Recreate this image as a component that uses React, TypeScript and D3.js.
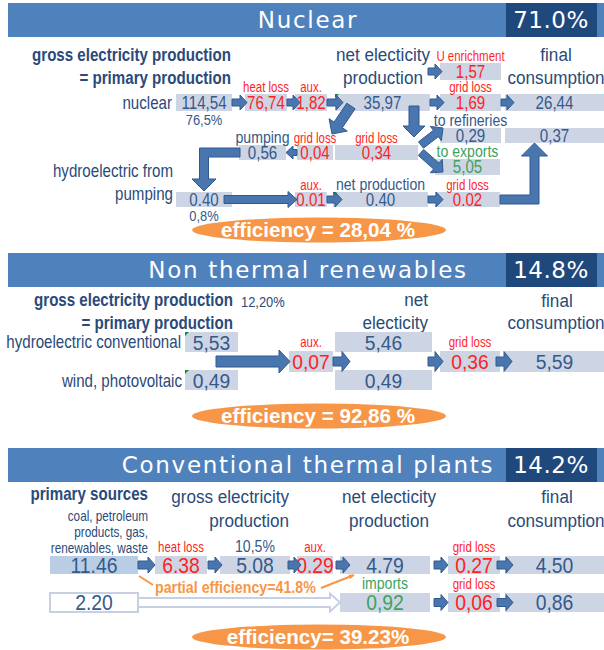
import React from 'react';
import * as d3 from 'd3';

const FONT = "'Liberation Sans', Arial, sans-serif";
const TITLE_FONT = "'DejaVu Sans', 'Open Sans', sans-serif";

const COLORS = {
  band: '#4F81BD',
  bandDark: '#1F497D',
  box: '#CDD5E5',
  boxSrc: '#B9CDE5',
  text: '#2A4A7A',
  value: '#34598B',
  loss: '#FF1F1F',
  green: '#3DA35D',
  arrow: '#4A76B0',
  arrowEdge: '#2F5A8E',
  orange: '#F79646',
  hollow: '#C6D0E2',
};

type Tone = 'value' | 'loss' | 'green';
interface Flow { id: string; value: string; tone: Tone; note?: string; noteTone?: Tone; sub?: string }

// ---- data ----
const sectionTitles = ['Nuclear', 'Non thermal renewables', 'Conventional thermal plants'];
const sectionShares = ['71.0%', '14.8%', '14.2%'];
const efficiencyLabels = ['efficiency = 28,04 %', 'efficiency = 92,86 %', 'efficiency= 39.23%'];

const nuclearFlows: Flow[] = [
  { id: 'nuc', value: '114,54', tone: 'value', sub: '76,5%' },
  { id: 'heat', value: '76,74', tone: 'loss', note: 'heat loss' },
  { id: 'aux', value: '1,82', tone: 'loss', note: 'aux.' },
  { id: 'net', value: '35,97', tone: 'value' },
  { id: 'enr', value: '1,57', tone: 'loss', note: 'U enrichment' },
  { id: 'grid', value: '1,69', tone: 'loss', note: 'grid loss' },
  { id: 'fin', value: '26,44', tone: 'value' },
  { id: 'pump', value: '0,56', tone: 'value', note: 'pumping', noteTone: 'value' },
  { id: 'pumpLoss', value: '0,04', tone: 'loss', note: 'grid loss' },
  { id: 'netLoss', value: '0,34', tone: 'loss', note: 'grid loss' },
  { id: 'ref', value: '0,29', tone: 'value', note: 'to refineries', noteTone: 'value' },
  { id: 'fin2', value: '0,37', tone: 'value' },
  { id: 'exp', value: '5,05', tone: 'green', note: 'to exports', noteTone: 'green' },
  { id: 'hyd', value: '0.40', tone: 'value', sub: '0,8%' },
  { id: 'aux2', value: '0.01', tone: 'loss', note: 'aux.' },
  { id: 'net2', value: '0.40', tone: 'value', note: 'net production', noteTone: 'value' },
  { id: 'grid2', value: '0.02', tone: 'loss', note: 'grid loss' },
];

const renewableFlows: Flow[] = [
  { id: 'hydro', value: '5,53', tone: 'value' },
  { id: 'wind', value: '0,49', tone: 'value' },
  { id: 'aux', value: '0,07', tone: 'loss', note: 'aux.' },
  { id: 'netH', value: '5,46', tone: 'value' },
  { id: 'netW', value: '0,49', tone: 'value' },
  { id: 'grid', value: '0,36', tone: 'loss', note: 'grid loss' },
  { id: 'fin', value: '5,59', tone: 'value' },
];

const thermalFlows: Flow[] = [
  { id: 'prim', value: '11.46', tone: 'value' },
  { id: 'heat', value: '6.38', tone: 'loss', note: 'heat loss' },
  { id: 'gross', value: '5.08', tone: 'value', note: '10,5%', noteTone: 'value' },
  { id: 'aux', value: '0.29', tone: 'loss', note: 'aux.' },
  { id: 'net', value: '4.79', tone: 'value' },
  { id: 'grid', value: '0.27', tone: 'loss', note: 'grid loss' },
  { id: 'fin', value: '4.50', tone: 'value' },
  { id: 'other', value: '2.20', tone: 'value' },
  { id: 'imp', value: '0,92', tone: 'green', note: 'imports', noteTone: 'green' },
  { id: 'grid2', value: '0,06', tone: 'loss', note: 'grid loss' },
  { id: 'fin2', value: '0,86', tone: 'value' },
];

// ---- layout ----
type Anchor = [string, string, number?, number?];
type LabelKind = 'bold' | 'head' | 'row' | 'small' | 'pct' | 'orange';
interface ArrowSpec { from: Anchor; to: Anchor; sw?: number; hw?: number; hl?: number; elbow?: boolean; hollow?: boolean; thin?: boolean }
interface Label { t: string; x: number; y: number; a?: 'start' | 'middle' | 'end'; kind: LabelKind }
interface Layout {
  top: number;
  cols: Record<string, [number, number]>;
  rows: Record<string, [number, number]>;
  place: Record<string, [string, string]>;
  valueSize: number;
  valueSx: number;
  noteGap: number;
  arrowSize: [number, number, number];
  labels: Label[];
  arrows: ArrowSpec[];
  ticks: string[];
  special?: Record<string, 'src' | 'outline'>;
  ellipse: [number, number];
}

const labelStyle: Record<LabelKind, { size: number; sx: number; bold?: boolean; color?: string }> = {
  bold: { size: 18, sx: 0.84, bold: true },
  head: { size: 19, sx: 0.9 },
  row: { size: 18, sx: 0.84 },
  small: { size: 14, sx: 0.84 },
  pct: { size: 15, sx: 0.86 },
  orange: { size: 16, sx: 0.89, bold: true, color: COLORS.orange },
};

const nuclearLayout: Layout = {
  top: 3,
  cols: {
    src: [176, 232], heat: [245, 287], aux: [295, 327], pump: [239, 286], pumpLoss: [297, 333],
    net: [335, 430], net2: [333, 428], netLoss: [335, 418], loss: [440, 501], exp: [435, 500], final: [505, 604],
  },
  rows: { enr: [63, 80], r1: [94, 111], r2: [128, 143], pump: [145, 160], exp: [159, 175], r3: [192, 207] },
  place: {
    nuc: ['src', 'r1'], heat: ['heat', 'r1'], aux: ['aux', 'r1'], net: ['net', 'r1'], enr: ['loss', 'enr'],
    grid: ['loss', 'r1'], fin: ['final', 'r1'], pump: ['pump', 'pump'], pumpLoss: ['pumpLoss', 'pump'],
    netLoss: ['netLoss', 'pump'], ref: ['loss', 'r2'], fin2: ['final', 'r2'], exp: ['exp', 'exp'],
    hyd: ['src', 'r3'], aux2: ['aux', 'r3'], net2: ['net2', 'r3'], grid2: ['exp', 'r3'],
  },
  valueSize: 18,
  valueSx: 0.84,
  noteGap: 2,
  arrowSize: [7, 15, 7],
  labels: [
    { t: 'gross electricity production', x: 231, y: 61, a: 'end', kind: 'bold' },
    { t: '= primary production', x: 231, y: 84, a: 'end', kind: 'bold' },
    { t: 'net electicity', x: 383, y: 61, a: 'middle', kind: 'head' },
    { t: 'production', x: 383, y: 84, a: 'middle', kind: 'head' },
    { t: 'final', x: 556, y: 61, a: 'middle', kind: 'head' },
    { t: 'consumption', x: 556, y: 84, a: 'middle', kind: 'head' },
    { t: 'nuclear', x: 172, y: 109, a: 'end', kind: 'row' },
    { t: 'hydroelectric from', x: 173, y: 177, a: 'end', kind: 'row' },
    { t: 'pumping', x: 173, y: 200, a: 'end', kind: 'row' },
  ],
  arrows: [
    { from: ['nuc', 'r'], to: ['nuc', 'r', 15] },
    { from: ['heat', 'r'], to: ['heat', 'r', 13] },
    { from: ['aux', 'r'], to: ['aux', 'r', 16] },
    { from: ['net', 'r'], to: ['net', 'r', 14] },
    { from: ['grid', 'r'], to: ['grid', 'r', 13] },
    { from: ['enr', 'l', -12], to: ['enr', 'l', 2] },
    { from: ['pumpLoss', 'l'], to: ['pump', 'r'], sw: 6, hw: 13, hl: 7 },
    { from: ['net', 'bl', 16, -5], to: ['pumpLoss', 'tr', -1, -11], sw: 10, hw: 22, hl: 11 },
    { from: ['net', 'br', -16, -5], to: ['netLoss', 'tr', -4, -8], sw: 10, hw: 22, hl: 11 },
    { from: ['netLoss', 'tr', 3, 0], to: ['ref', 'tl', 3, 0], sw: 8, hw: 18, hl: 9 },
    { from: ['netLoss', 'r', 3, 0], to: ['exp', 'l', 8, 5], sw: 8, hw: 18, hl: 9 },
    { from: ['pump', 'l', 1], to: ['hyd', 't', 0, -1], elbow: true, sw: 9, hw: 24, hl: 12 },
    { from: ['hyd', 'r', -8], to: ['aux2', 'l', 2], sw: 8, hw: 16, hl: 9 },
    { from: ['aux2', 'r'], to: ['aux2', 'r', 15] },
    { from: ['net2', 'r'], to: ['net2', 'r', 15] },
    { from: ['grid2', 'r'], to: ['fin2', 'b', -20, 0], elbow: true, sw: 9, hw: 26, hl: 13 },
  ],
  ticks: ['net', 'net2'],
  ellipse: [319, 230],
};

const renewableLayout: Layout = {
  top: 253,
  cols: { src: [185, 238], aux: [289, 333], net: [335, 432], loss: [440, 500], final: [505, 604] },
  rows: { top: [332, 352], mid: [351, 372], bot: [370, 390] },
  place: {
    hydro: ['src', 'top'], wind: ['src', 'bot'], aux: ['aux', 'mid'], netH: ['net', 'top'],
    netW: ['net', 'bot'], grid: ['loss', 'mid'], fin: ['final', 'mid'],
  },
  valueSize: 21,
  valueSx: 0.92,
  noteGap: 4,
  arrowSize: [9, 20, 8],
  labels: [
    { t: 'gross electricity production', x: 233, y: 306, a: 'end', kind: 'bold' },
    { t: '12,20%', x: 241, y: 307, a: 'start', kind: 'pct' },
    { t: '= primary production', x: 233, y: 329, a: 'end', kind: 'bold' },
    { t: 'net', x: 428, y: 306, a: 'end', kind: 'head' },
    { t: 'electicity', x: 428, y: 329, a: 'end', kind: 'head' },
    { t: 'final', x: 557, y: 307, a: 'middle', kind: 'head' },
    { t: 'consumption', x: 556, y: 329, a: 'middle', kind: 'head' },
    { t: 'hydroelectric conventional', x: 181, y: 348, a: 'end', kind: 'row' },
    { t: 'wind, photovoltaic', x: 182, y: 387, a: 'end', kind: 'row' },
  ],
  arrows: [
    { from: ['aux', 'l', -73], to: ['aux', 'l', 1], sw: 11, hw: 23, hl: 11 },
    { from: ['aux', 'r'], to: ['aux', 'r', 17] },
    { from: ['grid', 'l', -12], to: ['grid', 'l', 3] },
    { from: ['grid', 'r', -4], to: ['grid', 'r', 12] },
  ],
  ticks: ['hydro', 'wind'],
  ellipse: [319, 416],
};

const thermalLayout: Layout = {
  top: 448,
  cols: {
    src: [50, 138], heat: [155, 207], gross: [220, 290], aux: [297, 333], net: [340, 430], loss: [448, 500], final: [505, 604],
  },
  rows: { r1: [556, 574], r2: [593, 612] },
  place: {
    prim: ['src', 'r1'], heat: ['heat', 'r1'], gross: ['gross', 'r1'], aux: ['aux', 'r1'], net: ['net', 'r1'],
    grid: ['loss', 'r1'], fin: ['final', 'r1'], other: ['src', 'r2'], imp: ['net', 'r2'], grid2: ['loss', 'r2'], fin2: ['final', 'r2'],
  },
  valueSize: 22,
  valueSx: 0.88,
  noteGap: 4,
  arrowSize: [8, 16, 7],
  labels: [
    { t: 'primary sources', x: 148, y: 500, a: 'end', kind: 'bold' },
    { t: 'coal, petroleum', x: 148, y: 521, a: 'end', kind: 'small' },
    { t: 'products, gas,', x: 148, y: 537, a: 'end', kind: 'small' },
    { t: 'renewables, waste', x: 148, y: 553, a: 'end', kind: 'small' },
    { t: 'gross electricity', x: 289, y: 503, a: 'end', kind: 'head' },
    { t: 'production', x: 289, y: 527, a: 'end', kind: 'head' },
    { t: 'net electicity', x: 389, y: 503, a: 'middle', kind: 'head' },
    { t: 'production', x: 389, y: 527, a: 'middle', kind: 'head' },
    { t: 'final', x: 557, y: 503, a: 'middle', kind: 'head' },
    { t: 'consumption', x: 556, y: 527, a: 'middle', kind: 'head' },
    { t: 'partial efficiency=41.8%', x: 155, y: 593, a: 'start', kind: 'orange' },
  ],
  arrows: [
    { from: ['prim', 'r'], to: ['prim', 'r', 17] },
    { from: ['heat', 'r', 1], to: ['heat', 'r', 15] },
    { from: ['gross', 'r', -2], to: ['gross', 'r', 11] },
    { from: ['aux', 'r', 3], to: ['aux', 'r', 17] },
    { from: ['net', 'r', 4], to: ['net', 'r', 18] },
    { from: ['grid', 'r', -3], to: ['grid', 'r', 13] },
    { from: ['imp', 'r', 4], to: ['imp', 'r', 18] },
    { from: ['grid2', 'r', -3], to: ['grid2', 'r', 13] },
    { from: ['other', 'r'], to: ['imp', 'l'], sw: 9, hw: 18, hl: 10, hollow: true },
    { from: ['prim', 'br', 1, 2], to: ['heat', 'bl', -2, 11], thin: true },
    { from: ['net', 'bl', -19, 14], to: ['net', 'bl', 14, 1], thin: true, hw: 5, hl: 5 },
  ],
  ticks: [],
  special: { prim: 'src', other: 'outline' },
  ellipse: [319, 637],
};

const toneColor = (t: Tone) => (t === 'loss' ? COLORS.loss : t === 'green' ? COLORS.green : COLORS.value);

type P = [number, number];

function arrowPolygon(pts: P[], sw: number, hw: number, hl: number): P[] {
  const n = pts.length;
  const tip = pts[n - 1];
  const prev = pts[n - 2];
  const len = Math.hypot(tip[0] - prev[0], tip[1] - prev[1]);
  const ux = (tip[0] - prev[0]) / len;
  const uy = (tip[1] - prev[1]) / len;
  const base: P = [tip[0] - ux * hl, tip[1] - uy * hl];
  const shaft: P[] = [...pts.slice(0, n - 1), base];
  const segN = (a: P, b: P): P => {
    const l = Math.hypot(b[0] - a[0], b[1] - a[1]);
    return [-(b[1] - a[1]) / l, (b[0] - a[0]) / l];
  };
  const left: P[] = [];
  const right: P[] = [];
  shaft.forEach((p, i) => {
    let nv: P;
    if (i === 0) nv = segN(shaft[0], shaft[1]);
    else if (i === shaft.length - 1) nv = segN(shaft[i - 1], shaft[i]);
    else {
      const n1 = segN(shaft[i - 1], shaft[i]);
      const n2 = segN(shaft[i], shaft[i + 1]);
      let mx = n1[0] + n2[0];
      let my = n1[1] + n2[1];
      const ml = Math.hypot(mx, my);
      mx /= ml; my /= ml;
      const d = mx * n1[0] + my * n1[1];
      nv = [mx / d, my / d];
    }
    left.push([p[0] + (nv[0] * sw) / 2, p[1] + (nv[1] * sw) / 2]);
    right.push([p[0] - (nv[0] * sw) / 2, p[1] - (nv[1] * sw) / 2]);
  });
  const nx = -uy;
  const ny = ux;
  return [
    ...left,
    [base[0] + (nx * hw) / 2, base[1] + (ny * hw) / 2],
    tip,
    [base[0] - (nx * hw) / 2, base[1] - (ny * hw) / 2],
    ...right.reverse(),
  ];
}

const polyLine = d3.line<P>().x((d) => d[0]).y((d) => d[1]);

// narrow text: regular sans squeezed horizontally around its anchor
const NText: React.FC<{
  x: number; y: number; sx: number; anchor?: 'start' | 'middle' | 'end';
  size: number; bold?: boolean; fill: string; children: React.ReactNode;
}> = ({ x, y, sx, anchor = 'start', size, bold, fill, children }) => (
  <text transform={`translate(${x},${y}) scale(${sx},1)`} textAnchor={anchor} fontFamily={FONT}
    fontSize={size} fontWeight={bold ? 'bold' : 'normal'} fill={fill}>{children}</text>
);

interface SectionProps { index: number; flows: Flow[]; layout: Layout }

const Section: React.FC<SectionProps> = ({ index, flows, layout }) => {
  const colScale = d3.scaleOrdinal<string, [number, number]>()
    .domain(Object.keys(layout.cols)).range(Object.values(layout.cols));
  const rowScale = d3.scaleOrdinal<string, [number, number]>()
    .domain(Object.keys(layout.rows)).range(Object.values(layout.rows));

  const boxes = new Map(flows.map((f) => {
    const [c, r] = layout.place[f.id];
    const [x0, x1] = colScale(c);
    const [y0, y1] = rowScale(r);
    return [f.id, { x0, x1, y0, y1, cx: (x0 + x1) / 2, cy: (y0 + y1) / 2 }];
  }));

  const anchor = ([id, side, dx = 0, dy = 0]: Anchor): P => {
    const b = boxes.get(id)!;
    const pos: Record<string, P> = {
      l: [b.x0, b.cy], r: [b.x1, b.cy], t: [b.cx, b.y0], b: [b.cx, b.y1],
      tl: [b.x0, b.y0], tr: [b.x1, b.y0], bl: [b.x0, b.y1], br: [b.x1, b.y1],
    };
    const p = pos[side];
    return [p[0] + dx, p[1] + dy];
  };

  const top = layout.top;
  const bandH = 34;
  const [asw, ahw, ahl] = layout.arrowSize;

  return (
    <g>
      <rect x={8} y={top} width={596} height={bandH} fill={COLORS.band} />
      <rect x={506} y={top} width={91} height={bandH} fill={COLORS.bandDark} />
      <text x={308} y={top + 25} textAnchor="middle" fill="#fff" fontFamily={TITLE_FONT}
        fontSize={23} letterSpacing={1.7}>{sectionTitles[index]}</text>
      <text x={551} y={top + 25} textAnchor="middle" fill="#fff" fontFamily={TITLE_FONT}
        fontSize={23} letterSpacing={0.5}>{sectionShares[index]}</text>

      {layout.labels.map((l, i) => {
        const st = labelStyle[l.kind];
        return (
          <NText key={`l${i}`} x={l.x} y={l.y} anchor={l.a} size={st.size} sx={st.sx} bold={st.bold}
            fill={st.color ?? COLORS.text}>{l.t}</NText>
        );
      })}

      {flows.map((f) => {
        const b = boxes.get(f.id)!;
        const kind = layout.special?.[f.id];
        return (
          <rect key={`b${f.id}`} x={b.x0} y={b.y0} width={b.x1 - b.x0} height={b.y1 - b.y0}
            fill={kind === 'src' ? COLORS.boxSrc : kind === 'outline' ? '#fff' : COLORS.box}
            stroke={kind === 'outline' ? COLORS.hollow : 'none'} strokeWidth={2} />
        );
      })}

      {layout.ticks.map((id) => {
        const b = boxes.get(id)!;
        return <path key={`t${id}`} d={`M${b.x0},${b.y0}h4l-4,4Z`} fill="#1A8A3A" />;
      })}

      {flows.map((f) => {
        const b = boxes.get(f.id)!;
        const noteTone = f.noteTone ?? 'loss';
        return (
          <g key={`v${f.id}`}>
            <NText x={b.cx} y={b.cy + layout.valueSize * 0.36} anchor="middle" sx={layout.valueSx}
              size={layout.valueSize} fill={toneColor(f.tone)}>{f.value}</NText>
            {f.note && (
              <NText x={b.cx} y={b.y0 - layout.noteGap} anchor="middle"
                sx={noteTone === 'loss' ? 0.82 : 0.88}
                size={noteTone === 'loss' ? 14 : 16} fill={toneColor(noteTone)}>{f.note}</NText>
            )}
            {f.sub && (
              <NText x={b.cx} y={b.y1 + 14} anchor="middle" sx={0.86} size={15} fill={COLORS.value}>{f.sub}</NText>
            )}
          </g>
        );
      })}

      {layout.arrows.map((a, i) => {
        const s = anchor(a.from);
        const e = anchor(a.to);
        if (a.thin) {
          const ang = Math.atan2(e[1] - s[1], e[0] - s[0]);
          const hl = a.hl ?? 0;
          const hw = a.hw ?? 0;
          const head: P[] = hl > 0 ? [
            [e[0] - hl * Math.cos(ang) + (hw / 2) * Math.sin(ang), e[1] - hl * Math.sin(ang) - (hw / 2) * Math.cos(ang)],
            e,
            [e[0] - hl * Math.cos(ang) - (hw / 2) * Math.sin(ang), e[1] - hl * Math.sin(ang) + (hw / 2) * Math.cos(ang)],
          ] : [];
          return (
            <g key={`a${i}`}>
              <path d={polyLine([s, e]) ?? ''} stroke={COLORS.orange} strokeWidth={2} fill="none" />
              {head.length > 0 && <path d={`${polyLine(head)}Z`} fill={COLORS.orange} />}
            </g>
          );
        }
        const pts: P[] = a.elbow ? [s, [e[0], s[1]], e] : [s, e];
        const poly = arrowPolygon(pts, a.sw ?? asw, a.hw ?? ahw, a.hl ?? ahl);
        return (
          <path key={`a${i}`} d={`${polyLine(poly)}Z`}
            fill={a.hollow ? '#fff' : COLORS.arrow}
            stroke={a.hollow ? COLORS.hollow : COLORS.arrowEdge}
            strokeWidth={a.hollow ? 2 : 1} strokeLinejoin="miter" />
        );
      })}

      <ellipse cx={layout.ellipse[0]} cy={layout.ellipse[1]} rx={127} ry={12.5} fill={COLORS.orange} />
      <NText x={layout.ellipse[0] - 1} y={layout.ellipse[1] + 7} anchor="middle" sx={1.03}
        size={20} bold fill="#fff">{efficiencyLabels[index]}</NText>
    </g>
  );
};

export default function App() {
  return (
    <svg width={604} height={650} viewBox="0 0 604 650"
      style={{ position: 'absolute', left: 0, top: 0, background: '#fff' }}>
      <Section index={0} flows={nuclearFlows} layout={nuclearLayout} />
      <Section index={1} flows={renewableFlows} layout={renewableLayout} />
      <Section index={2} flows={thermalFlows} layout={thermalLayout} />
    </svg>
  );
}
